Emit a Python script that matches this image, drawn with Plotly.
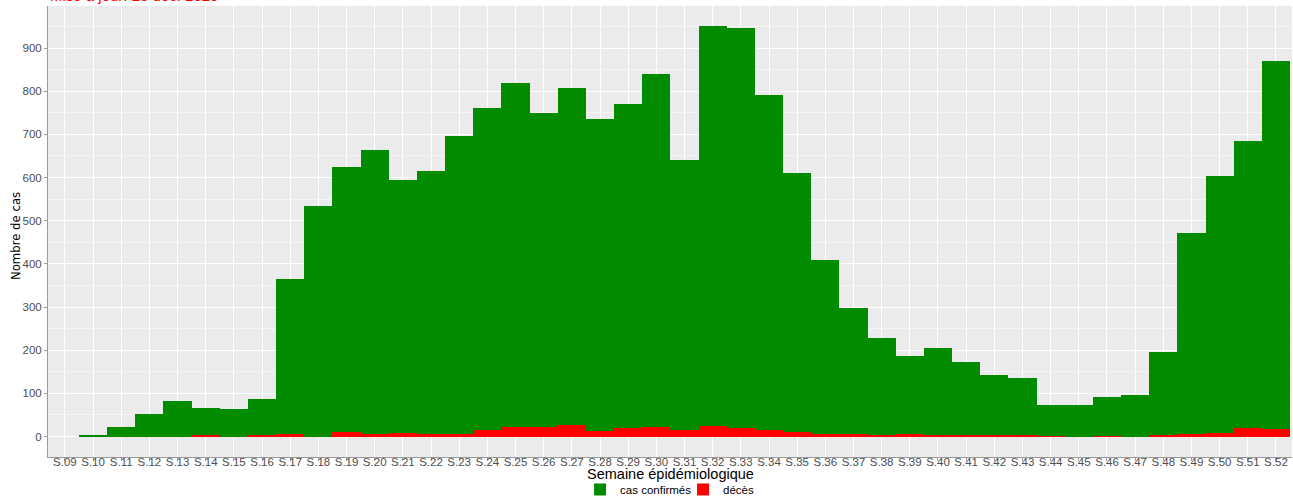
import plotly.graph_objects as go

weeks = ["S.09", "S.10", "S.11", "S.12", "S.13", "S.14", "S.15", "S.16", "S.17", "S.18",
         "S.19", "S.20", "S.21", "S.22", "S.23", "S.24", "S.25", "S.26", "S.27", "S.28",
         "S.29", "S.30", "S.31", "S.32", "S.33", "S.34", "S.35", "S.36", "S.37", "S.38",
         "S.39", "S.40", "S.41", "S.42", "S.43", "S.44", "S.45", "S.46", "S.47", "S.48",
         "S.49", "S.50", "S.51", "S.52"]

cas_confirmes = [0, 3, 22, 51, 82, 65, 64, 88, 364, 535,
                 625, 664, 595, 616, 696, 762, 820, 750, 808, 735,
                 771, 841, 640, 952, 946, 792, 611, 410, 297, 229,
                 187, 205, 173, 143, 136, 74, 74, 92, 97, 195,
                 471, 603, 684, 869]

deces = [0, 0, 0, 0, 0, 2, 0, 2, 5, 0,
         10, 6, 8, 6, 5, 14, 21, 21, 27, 12,
         19, 23, 15, 24, 20, 15, 11, 5, 5, 4,
         5, 2, 2, 2, 2, 1, 0, 1, 0, 2,
         5, 8, 20, 18]

y_ticks = [0, 100, 200, 300, 400, 500, 600, 700, 800, 900]

GREEN = "#008B00"
RED = "#FF0000"
BASE = "Liberation Sans, Arial, sans-serif"
TICK_FONT = dict(family=BASE, size=11.5, color="#4D4D4D")

fig = go.Figure()
fig.add_trace(go.Bar(x=weeks, y=cas_confirmes, name="cas confirmés",
                     marker=dict(color=GREEN, line=dict(width=0)), width=1))
fig.add_trace(go.Bar(x=weeks, y=deces, name="décès",
                     marker=dict(color=RED, line=dict(width=0)), width=1))

fig.update_layout(
    width=1293, height=498,
    margin=dict(l=48, r=1, t=6, b=41, autoexpand=False),
    paper_bgcolor="white",
    plot_bgcolor="#EBEBEB",
    barmode="overlay",
    bargap=0,
    font=dict(family=BASE, color="black"),
    showlegend=True,
    legend=dict(orientation="h", x=0.5105, xanchor="center", y=-0.072, yanchor="middle",
                font=dict(size=11.5, color="black"), itemwidth=30, traceorder="normal",
                entrywidth=58, entrywidthmode="pixels",
                bgcolor="rgba(0,0,0,0)"),
    xaxis=dict(
        type="category", categoryorder="array", categoryarray=weeks,
        range=[-0.6, 43.57],
        showgrid=True, gridcolor="white", gridwidth=1,
        showline=True, linecolor="#9A9A9A", linewidth=1,
        ticks="outside", ticklen=3, tickcolor="#9A9A9A",
        tickfont=TICK_FONT, tickangle=0, zeroline=False,
        ticklabelstandoff=-9,
    ),
    yaxis=dict(
        range=[-47.5, 997.5],
        tickvals=y_ticks,
        showgrid=True, gridcolor="white", gridwidth=1,
        minor=dict(dtick=50, tick0=0, showgrid=True, gridcolor="#F5F5F5", gridwidth=0.6),
        showline=True, linecolor="#9A9A9A", linewidth=1,
        ticks="outside", ticklen=3, tickcolor="#9A9A9A",
        tickfont=TICK_FONT, zeroline=False,
    ),
    annotations=[
        dict(text="Mise à jour: 28 déc. 2020", xref="paper", yref="paper",
             x=0, y=1.0, xanchor="left", yanchor="bottom", showarrow=False,
             font=dict(size=15, color=RED, family=BASE)),
        dict(text="Semaine épidémiologique", xref="paper", yref="paper",
             x=0.5, y=-0.0388, xanchor="center", yanchor="middle", showarrow=False,
             font=dict(size=14.5, color="black", family=BASE)),
        dict(text="Nombre de cas", xref="paper", yref="paper",
             x=-0.0265, y=0.49, xanchor="center", yanchor="middle", showarrow=False,
             textangle=-90,
             font=dict(size=13, color="black",
                       family="Liberation Sans Narrow, Arial Narrow, DejaVu Sans Condensed, Liberation Sans, sans-serif")),
    ],
)

fig.write_html("out.html", config={"displayModeBar": False},
               post_script="document.body.style.margin='0px';")
